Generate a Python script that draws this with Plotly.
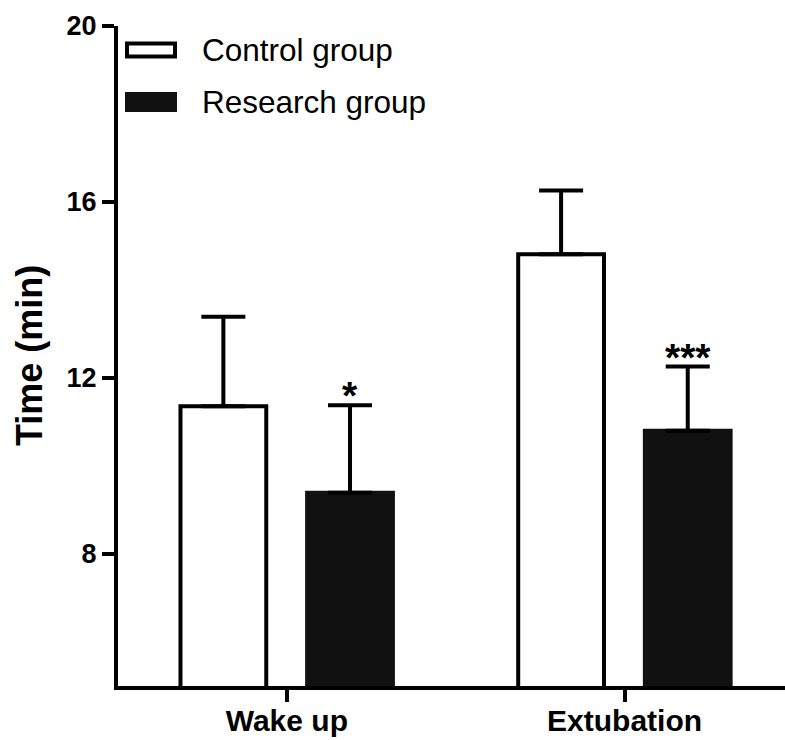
import plotly.graph_objects as go

categories = ["Wake up", "Extubation"]
control_mean = [11.36, 14.81]
control_err_top = [13.39, 16.26]
research_mean = [9.39, 10.80]
research_err_top = [11.38, 12.26]
significance = ["*", "***"]
y_ticks = [8, 12, 16, 20]

FONT = "Arial, Liberation Sans, sans-serif"
BAR_W = 0.254
OFF_C = -0.315
OFF_R = 0.06

fig = go.Figure()
fig.add_trace(go.Bar(
    x=categories, y=control_mean, base=0,
    width=BAR_W, offset=OFF_C,
    marker=dict(color="white", line=dict(color="black", width=4)),
    error_y=dict(type="data", symmetric=False,
                 array=[t - m for t, m in zip(control_err_top, control_mean)],
                 arrayminus=[0, 0], color="black", thickness=4, width=22),
    name="Control group", showlegend=False,
))
fig.add_trace(go.Bar(
    x=categories, y=research_mean, base=0,
    width=BAR_W, offset=OFF_R,
    marker=dict(color="#111111", line=dict(color="#111111", width=4)),
    error_y=dict(type="data", symmetric=False,
                 array=[t - m for t, m in zip(research_err_top, research_mean)],
                 arrayminus=[0, 0], color="black", thickness=4, width=22),
    name="Research group", showlegend=False,
))

# significance stars above research error bars
for i, (s, top) in enumerate(zip(significance, research_err_top)):
    fig.add_annotation(x=i + OFF_R + BAR_W / 2, y=top, text=s,
                       showarrow=False, xanchor="center", yanchor="bottom",
                       yshift=-14, font=dict(family=FONT, size=39, color="black", weight="bold"))

# Manual legend
W, H = 785, 740
L, R, T, B = 118, 0, 26, 54
pw, ph = W - L - R, H - T - B
def px(x): return (x - L) / pw
def py(y): return (H - B - y) / ph

fig.add_shape(type="rect", xref="paper", yref="paper",
              x0=px(127), x1=px(175), y0=py(56.5), y1=py(43.5),
              line=dict(color="black", width=4), fillcolor="white")
fig.add_shape(type="rect", xref="paper", yref="paper",
              x0=px(125), x1=px(177), y0=py(112), y1=py(92),
              line=dict(color="#111111", width=0), fillcolor="#111111")
fig.add_annotation(xref="paper", yref="paper", x=px(200), y=py(50), text="Control group",
                   showarrow=False, xanchor="left", yanchor="middle",
                   font=dict(family=FONT, size=31.5, color="black"))
fig.add_annotation(xref="paper", yref="paper", x=px(200), y=py(102), text="Research group",
                   showarrow=False, xanchor="left", yanchor="middle",
                   font=dict(family=FONT, size=31.5, color="black"))

# y-axis title
fig.add_annotation(xref="paper", yref="paper", x=px(29), y=0.5, text="Time (min)",
                   showarrow=False, xanchor="center", yanchor="middle", textangle=-90,
                   font=dict(family=FONT, size=36, color="black", weight="bold"))

fig.update_layout(
    width=W, height=H,
    margin=dict(l=L, r=R, t=T, b=B, autoexpand=False),
    paper_bgcolor="white", plot_bgcolor="white",
    barmode="overlay",
    showlegend=False,
)
fig.update_xaxes(
    type="category", range=[-0.5, 1.475], automargin=False,
    showline=True, linecolor="black", linewidth=4,
    ticks="outside", ticklen=12, tickwidth=4, tickcolor="black",
    ticklabelstandoff=-7,
    tickfont=dict(family=FONT, size=30, color="black", weight="bold"),
    showgrid=False, zeroline=False,
)
fig.update_yaxes(
    range=[5, 20], tickvals=y_ticks, automargin=False,
    showline=True, linecolor="black", linewidth=4,
    ticks="outside", ticklen=12, tickwidth=4, tickcolor="black",
    tickfont=dict(family=FONT, size=27, color="black", weight="bold"),
    showgrid=False, zeroline=False,
)

fig.write_html("out.html",
               config={"displayModeBar": False},
               post_script="document.body.style.margin='0';document.body.style.overflow='hidden';")
